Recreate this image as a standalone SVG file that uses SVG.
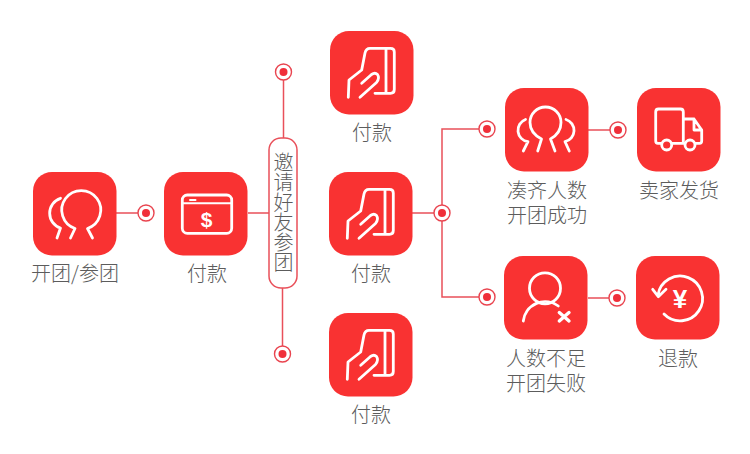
<svg xmlns="http://www.w3.org/2000/svg" width="750" height="454" viewBox="0 0 750 454">
<style>
.tile{fill:#f93232}
.ic{fill:none;stroke:#fff;stroke-width:2.8;stroke-linecap:round;stroke-linejoin:round}
.lb{font-family:"Noto Sans CJK SC","Liberation Sans",sans-serif;font-size:20px;font-weight:300;fill:#5c5c5c;text-anchor:middle}
.ln{fill:none;stroke:#e9505a;stroke-width:1.5}
.ring{fill:#fff;stroke:#e9444f;stroke-width:1.4}
.dot{fill:#f02f3a}
.gl{font-family:"Liberation Sans",sans-serif;font-weight:700;fill:#fff;text-anchor:middle}
</style>
<defs>
<rect id="t" class="tile" width="83.5" height="83.5" rx="19"/>
<g id="pay">
<use href="#t"/>
<path class="ic" d="M31.7 39L35 22Q36 17.3 40 17.3H60.5Q64.3 17.3 64.3 21V58.5Q64.3 62.3 60.5 62.3H45M56 17.3V62.3M18.3 66.3L19 49L31.7 39M30 66.3L46.5 51.5Q50 47 47.5 43.5Q45 41 41.5 43.5L31.7 52.3"/>
</g>
<g id="pt"><circle class="ring" r="8"/><circle class="dot" r="4"/></g>
</defs>
<rect width="750" height="454" fill="#fff"/>
<g id="connectors">
<path class="ln" d="M116 213H138M248 213H269M283.5 80V138M282.5 288V346M412 213H434M588 130H610M588 298H609M479 129H442V297H479"/>
</g>
<g id="invite">
<rect x="269" y="138" width="28" height="150" rx="12" fill="#fff" stroke="#e9505a" stroke-width="1.5"/>
<text x="283.5" y="152" style="writing-mode:vertical-rl;font-family:'Noto Sans CJK SC','Liberation Sans',sans-serif;font-size:20px;font-weight:300;fill:#5c5c5c">邀请好友参团</text>
</g>
<g id="dots">
<use href="#pt" x="146" y="213"/>
<use href="#pt" x="283.5" y="72"/>
<use href="#pt" x="282.5" y="354"/>
<use href="#pt" x="442" y="213"/>
<use href="#pt" x="487" y="129"/>
<use href="#pt" x="618" y="130"/>
<use href="#pt" x="487" y="297"/>
<use href="#pt" x="617" y="298"/>
</g>
<g id="n-open">
<g transform="translate(33 172)"><use href="#t"/>
<path class="ic" d="M37.5 66L42 56.5A19.5 19.5 0 1 1 54.5 56.5L59.5 66M27.5 26.3A15.6 15.6 0 0 0 27.5 56L24 66"/></g>
<text class="lb" x="75" y="281">开团/参团</text>
</g>
<g id="n-pay1">
<g transform="translate(164 172)"><use href="#t"/>
<rect class="ic" x="18.3" y="23" width="49.4" height="38.3" rx="5"/>
<path class="ic" d="M18.3 31.3H67.7M26 28H31.5" style="stroke-width:2"/>
<text class="gl" x="42.7" y="54.5" font-size="21">$</text></g>
<text class="lb" x="207" y="281">付款</text>
</g>
<g id="n-pay-top"><use href="#pay" x="330" y="31"/><text class="lb" x="372" y="140">付款</text></g>
<g id="n-pay-mid"><use href="#pay" x="329" y="172"/><text class="lb" x="371" y="281">付款</text></g>
<g id="n-pay-bot"><use href="#pay" x="329" y="313"/><text class="lb" x="371" y="422">付款</text></g>
<g id="n-group">
<g transform="translate(505 88)"><use href="#t"/>
<path class="ic" d="M32.7 63L36.5 51Q25 45 25 34.5A15.5 15.5 0 0 1 56 34.5Q56 45 45.5 51L50 63M20.5 31.5A11.5 11.5 0 0 0 23 53.7L18.3 63M61 31.5A11.5 11.5 0 0 1 60 53.7L64.3 63"/></g>
<text class="lb" x="547"><tspan x="547" y="198">凑齐人数</tspan><tspan x="547" y="223">开团成功</tspan></text>
</g>
<g id="n-ship">
<g transform="translate(637 88)"><use href="#t"/>
<path class="ic" d="M24 55.3H21Q18.7 55.3 18.7 53V24Q18.7 21 21.5 21H43.5Q46.3 21 46.3 24V55.3H48M46.3 31H57L64.7 42V53Q64.7 55.3 62.5 55.3H58.5M35 55.3H46.3M57 31V42H64.7"/>
<circle class="ic" cx="29.7" cy="57" r="5"/><circle class="ic" cx="53" cy="57" r="5"/></g>
<text class="lb" x="679" y="198">卖家发货</text>
</g>
<g id="n-fail">
<g transform="translate(504 256)"><use href="#t"/>
<circle class="ic" cx="41" cy="32.3" r="15.5"/>
<path class="ic" d="M19.3 65A22 22 0 0 1 54.3 50"/>
<path class="ic" d="M55.3 56.5L65 65M65 56.5L55.3 65" style="stroke-width:3.4"/></g>
<text class="lb" x="546"><tspan x="546" y="366">人数不足</tspan><tspan x="546" y="391">开团失败</tspan></text>
</g>
<g id="n-refund">
<g transform="translate(636 256)"><use href="#t"/>
<path class="ic" d="M22 39A22.4 22.4 0 1 1 28 58M16.7 33.3L22.3 40.7L30 33.3"/>
<text class="gl" x="44" y="52.3" font-size="26">¥</text></g>
<text class="lb" x="678" y="366">退款</text>
</g>
</svg>
